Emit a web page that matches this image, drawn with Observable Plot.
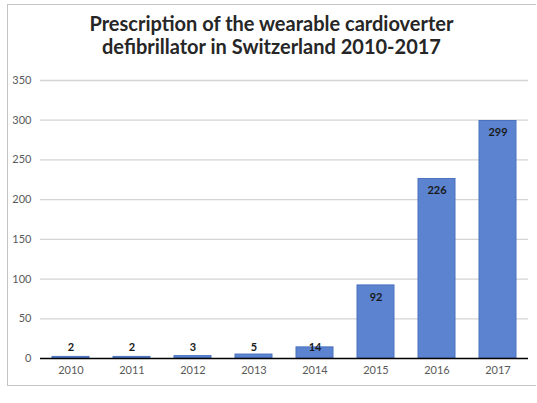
<!DOCTYPE html>
<html>
<head>
<meta charset="utf-8">
<script src="https://cdn.jsdelivr.net/npm/d3@7"></script>
<script src="https://cdn.jsdelivr.net/npm/@observablehq/plot@0.6"></script>
<style>
  html, body { margin: 0; padding: 0; background: #fff; }
  #page { position: relative; width: 537px; height: 403px; overflow: hidden; }
  #frame { position: absolute; left: 7px; top: 4px; width: 529px; height: 382px; border: 1px solid #c4c4c4; border-right: none; box-sizing: border-box; }
  #title { position: absolute; left: 7px; width: 529px; top: 12px; text-align: center; font-family: Lato, sans-serif; font-weight: bold; font-size: 20px; line-height: 23px; color: #262626; }
  #chart { position: absolute; left: 0; top: 60px; }
</style>
</head>
<body>
<div id="page">
  <div id="frame"></div>
  <div id="title">Prescription of the wearable cardioverter<br>defibrillator in Switzerland 2010-2017</div>
  <div id="chart"></div>
</div>
<script>
const years = ["2010", "2011", "2012", "2013", "2014", "2015", "2016", "2017"];
const counts = [2, 2, 3, 5, 14, 92, 226, 299];
const yTicks = [0, 50, 100, 150, 200, 250, 300, 350];

const data = years.map((y, i) => ({year: y, value: counts[i]}));

const chart = Plot.plot({
  width: 537,
  height: 326,
  marginTop: 20,
  marginBottom: 28,
  marginLeft: 40,
  marginRight: 9,
  style: {fontFamily: "Lato, sans-serif", fontSize: "11px", color: "#595959", background: "transparent"},
  x: {domain: years, paddingInner: 0.4, paddingOuter: 0.2, label: null, tickSize: 0, tickPadding: 8},
  y: {domain: [0, 350], ticks: yTicks, label: null, tickSize: 0, tickPadding: 9},
  marks: [
    Plot.ruleY(yTicks.filter(d => d > 0), {stroke: "#d4d4d4", strokeWidth: 1.3}),
    Plot.barY(data, {x: "year", y: "value", fill: "#5b83cf", stroke: "#4a72c0", strokeWidth: 1}),
    Plot.ruleY([0], {stroke: "#000", strokeWidth: 1.5}),
    Plot.text(data, {
      x: "year",
      y: d => Math.max(d.value - 15, 14),
      text: d => String(d.value),
      fill: "#1a1a1a",
      fontWeight: "bold",
      fontSize: 11
    })
  ]
});
document.getElementById("chart").appendChild(chart);
</script>
</body>
</html>
